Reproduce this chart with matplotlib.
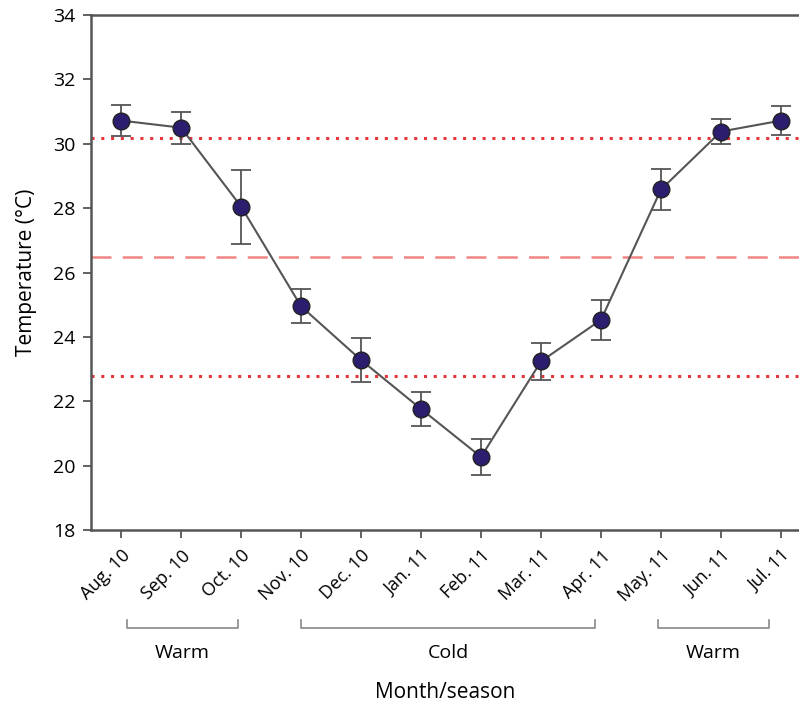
import numpy as np
import matplotlib.pyplot as plt

# --- data --- #
months = ["Aug. 10", "Sep. 10", "Oct. 10", "Nov. 10", "Dec. 10", "Jan. 11",
          "Feb. 11", "Mar. 11", "Apr. 11", "May. 11", "Jun. 11", "Jul. 11"]
temp = [30.72, 30.50, 28.05, 24.95, 23.28, 21.76, 20.27, 23.24, 24.53, 28.58, 30.38, 30.72]
err = [0.47, 0.50, 1.15, 0.53, 0.68, 0.52, 0.56, 0.58, 0.62, 0.63, 0.39, 0.45]

mean_temp = 26.48
upper_temp = 30.18
lower_temp = 22.78

seasons = ["Warm", "Cold", "Warm"]
season_start = [0.1, 3.0, 8.95]
season_end = [1.95, 7.9, 10.8]

plt.rcParams['font.family'] = ['Open Sans', 'DejaVu Sans']

fig = plt.figure(figsize=(7.99, 7.08), dpi=100)
ax = fig.add_axes([0.114, 0.2514, 0.886, 0.7274])

x = np.arange(len(months))

ax.axhline(upper_temp, color="#e8353a", linestyle=(0, (1, 2.2)), linewidth=2.2, zorder=1)
ax.axhline(lower_temp, color="#e8353a", linestyle=(0, (1, 2.2)), linewidth=2.2, zorder=1)
ax.axhline(mean_temp, color="#ef8584", linestyle=(0, (8, 4.5)), linewidth=1.8, zorder=1)

ax.errorbar(x, temp, yerr=err, fmt="none", ecolor="#555555", elinewidth=1.3,
            capsize=7, capthick=1.3, zorder=2)
ax.plot(x, temp, color="#555555", linewidth=1.5, zorder=3)
ax.plot(x, temp, "o", markersize=12, markerfacecolor="#2c1d6e",
        markeredgecolor="#222222", markeredgewidth=1.0, linestyle="none", zorder=4)

ax.set_xlim(-0.5, 11.3)
ax.set_ylim(18, 34)
ax.set_yticks(np.arange(18, 35, 2))
ax.set_xticks(x)
ax.set_xticklabels(months, rotation=45, ha="right", rotation_mode="anchor", fontsize=13)
ax.tick_params(axis="y", labelsize=14, length=6, width=1.3, color="#555555", pad=5)
ax.tick_params(axis="x", length=6, width=1.3, color="#555555", pad=6)

for side in ["left", "bottom", "top"]:
    ax.spines[side].set_color("#555555")
    ax.spines[side].set_linewidth(1.8)
ax.spines["right"].set_visible(False)

ax.set_ylabel("Temperature (°C)", fontsize=15, labelpad=12)

# season brackets below the axis
trans = ax.get_xaxis_transform()
for name, s, e in zip(seasons, season_start, season_end):
    ax.plot([s, s, e, e], [-0.175, -0.19, -0.19, -0.175], color="#888888",
            linewidth=1.2, transform=trans, clip_on=False)
    ax.text((s + e) / 2, -0.222, name, transform=trans, ha="center", va="top", fontsize=14)

ax.text(0.5, -0.295, "Month/season", transform=ax.transAxes, ha="center", va="top", fontsize=15)

fig.savefig("out.png", dpi=100)
